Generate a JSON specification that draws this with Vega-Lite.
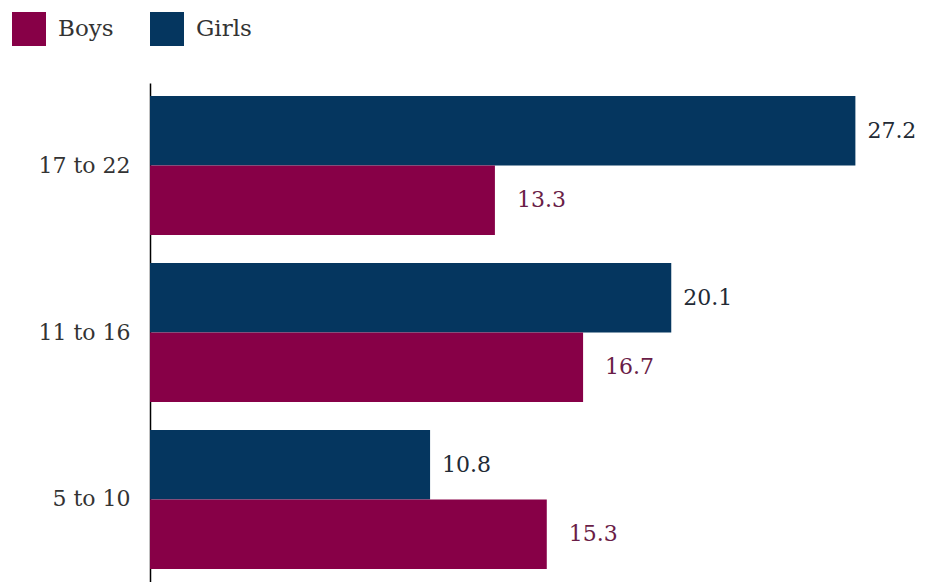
{
  "$schema": "https://vega.github.io/schema/vega-lite/v6.json",
  "autosize": {"type": "none"},
  "width": 778,
  "height": 499,
  "padding": {"left": 150, "top": 83, "right": 0, "bottom": 0},
  "background": "white",
  "config": {"view": {"stroke": null}, "font": "DejaVu Serif"},
  "data": {"values": [
    {"age": "17 to 22", "gender": "Girls", "value": 27.2},
    {"age": "17 to 22", "gender": "Boys", "value": 13.3},
    {"age": "11 to 16", "gender": "Girls", "value": 20.1},
    {"age": "11 to 16", "gender": "Boys", "value": 16.7},
    {"age": "5 to 10", "gender": "Girls", "value": 10.8},
    {"age": "5 to 10", "gender": "Boys", "value": 15.3}
  ]},
  "encoding": {
    "y": {"field": "age", "type": "nominal", "sort": ["17 to 22", "11 to 16", "5 to 10"],
      "scale": {"paddingInner": 0.167, "paddingOuter": 0.078},
      "axis": {"title": null, "ticks": false, "labelFontSize": 22, "labelColor": "#333333", "labelPadding": 20, "domainColor": "#000000", "domainWidth": 1.5, "labelFont": "DejaVu Serif"}},
    "yOffset": {"field": "gender", "type": "nominal", "sort": ["Girls", "Boys"], "scale": {"paddingInner": 0, "paddingOuter": 0}},
    "x": {"field": "value", "type": "quantitative", "scale": {"domain": [0, 30], "nice": false}, "axis": null}
  },
  "layer": [
    {
      "mark": {"type": "bar", "orient": "horizontal"},
      "encoding": {
        "color": {"field": "gender", "type": "nominal",
          "scale": {"domain": ["Boys", "Girls"], "range": ["#870047", "#05365f"]},
          "legend": {"title": null, "orient": "none", "direction": "horizontal", "legendX": -138, "legendY": -71,
            "symbolType": "square", "symbolSize": 1156, "symbolOpacity": 1, "symbolStrokeWidth": 0,
            "labelFontSize": 23, "labelColor": "#333333", "labelFont": "DejaVu Serif", "columnPadding": 36, "labelOffset": 12}}
      }
    },
    {
      "transform": [{"filter": "datum.gender === 'Boys'"}],
      "mark": {"type": "text", "align": "left", "baseline": "middle", "dx": 22, "fontSize": 22, "color": "#6a1d47"},
      "encoding": {"text": {"field": "value", "type": "quantitative", "format": ".1f"}}
    },
    {
      "transform": [{"filter": "datum.gender === 'Girls'"}],
      "mark": {"type": "text", "align": "left", "baseline": "middle", "dx": 12, "fontSize": 22, "color": "#222a35"},
      "encoding": {"text": {"field": "value", "type": "quantitative", "format": ".1f"}}
    }
  ]
}
